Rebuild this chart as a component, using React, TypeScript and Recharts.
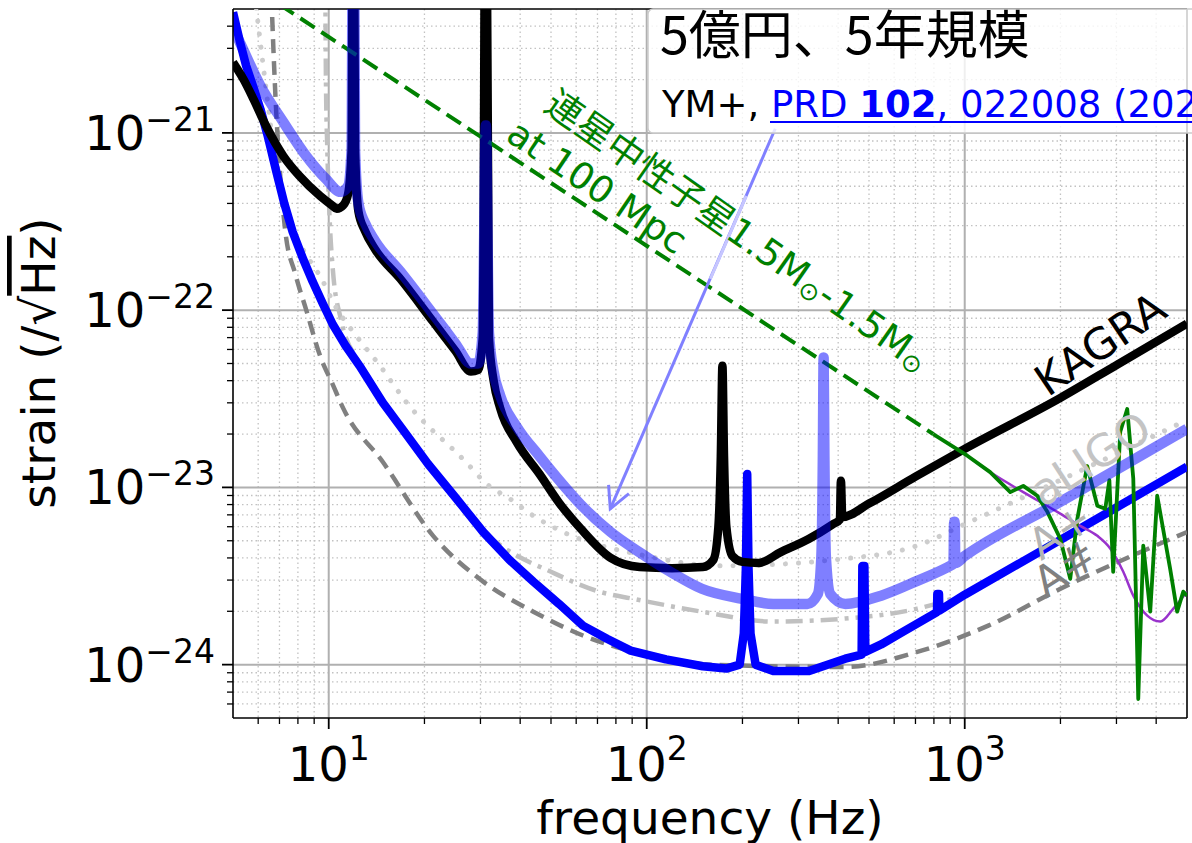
import React from 'react';
import { LineChart, Line, XAxis, YAxis, CartesianGrid, ReferenceLine, ReferenceDot } from 'recharts';

type Pt = [number, number];

const FONT = "'DejaVu Sans', 'Noto Sans CJK JP', sans-serif";
const JP = "'Noto Sans CJK JP', 'DejaVu Sans', sans-serif";

const X_DOMAIN: [number, number] = [5, 5000];
const Y_DOMAIN: [number, number] = [5e-25, 5e-21];

const xMajorTicks = [10, 100, 1000];
const xMinorTicks = [6, 7, 8, 9, 20, 30, 40, 50, 60, 70, 80, 90, 200, 300, 400, 500, 600, 700, 800, 900, 2000, 3000, 4000];
const yMajorTicks = [1e-24, 1e-23, 1e-22, 1e-21];
const yMinorTicks = [
  6e-25, 7e-25, 8e-25, 9e-25,
  2e-24, 3e-24, 4e-24, 5e-24, 6e-24, 7e-24, 8e-24, 9e-24,
  2e-23, 3e-23, 4e-23, 5e-23, 6e-23, 7e-23, 8e-23, 9e-23,
  2e-22, 3e-22, 4e-22, 5e-22, 6e-22, 7e-22, 8e-22, 9e-22,
  2e-21, 3e-21, 4e-21,
];

// KAGRA (black)
const kagra: Pt[] = [
  [5, 2.5e-21], [5.4, 2.0e-21], [5.8, 1.55e-21], [6.36, 1.09e-21], [7.2, 7.4e-22], [8.1, 5.7e-22],
  [9.4, 4.4e-22], [10.3, 3.87e-22], [10.6, 3.73e-22], [11.1, 3.9e-22], [11.5, 4.5e-22], [11.8, 8e-22],
  [11.95, 1e-19], [12.1, 8e-22], [12.4, 3.6e-22], [13, 2.8e-22], [14, 2.2e-22], [16.8, 1.5e-22],
  [21.3, 8.6e-23], [25, 5.9e-23], [28, 4.5e-23], [29.5, 4.6e-23], [30.5, 7e-23], [31.2, 1e-19],
  [31.9, 7e-23], [33, 4e-23], [34.6, 2.8e-23], [39, 1.8e-23], [46, 1.19e-23], [53, 8.2e-24],
  [62, 5.85e-24], [77, 4e-24], [95, 3.55e-24], [120, 3.5e-24], [150, 3.55e-24], [162, 3.9e-24],
  [168, 6e-24], [171, 1.5e-23], [173, 4.85e-23], [175, 1.5e-23], [178, 6e-24], [186, 4.1e-24],
  [200, 3.8e-24], [225, 3.75e-24], [263, 4.3e-24], [324, 5.13e-24], [385, 6.2e-24], [405, 6.6e-24],
  [408, 1.09e-23], [412, 6.8e-24], [500, 8.1e-24], [700, 1.15e-23], [1000, 1.65e-23], [2000, 3.2e-23],
  [3000, 4.9e-23], [5000, 8.4e-23],
];

// KAGRA upgrade (translucent blue)
const upgradeLight: Pt[] = [
  [5, 3.9e-21], [5.27, 3.2e-21], [6.1, 1.84e-21], [7.2, 1.15e-21], [8.5, 7.4e-22], [9.8, 5.5e-22],
  [10.9, 4.65e-22], [11.5, 5e-22], [11.8, 8e-22], [11.95, 1e-19], [12.1, 8e-22], [12.4, 4e-22],
  [13, 3.1e-22], [14, 2.45e-22], [16.8, 1.65e-22], [21.3, 9.5e-23], [25, 6.5e-23], [28, 5e-23],
  [29.5, 5e-23], [30.5, 7.5e-23], [31.2, 1.1e-21], [31.9, 7.5e-23], [33, 4.5e-23], [34.6, 3.3e-23],
  [39, 2.2e-23], [46, 1.5e-23], [53, 1.1e-23], [62, 8e-24], [77, 5.6e-24], [95, 4.3e-24],
  [120, 3.3e-24], [149, 2.68e-24], [200, 2.35e-24], [250, 2.2e-24], [320, 2.2e-24], [345, 2.5e-24],
  [354, 4e-24], [358, 1.5e-23], [360, 5.4e-23], [362, 1.5e-23], [366, 4e-24], [378, 2.5e-24],
  [421, 2.2e-24], [546, 2.45e-24], [709, 2.97e-24], [910, 3.65e-24], [922, 3.7e-24], [926, 6.4e-24],
  [930, 6.4e-24], [934, 3.75e-24], [1000, 4.1e-24], [2000, 8.3e-24], [3000, 1.26e-23], [5000, 2.14e-23],
];

// 5-year plan (solid blue)
const upgradeBlue: Pt[] = [
  [5, 4.8e-21], [5.25, 3.3e-21], [5.5, 2.39e-21], [5.8, 1.8e-21], [6.1, 1.36e-21], [6.45, 9.4e-22],
  [6.85, 6e-22], [7.25, 4e-22], [7.7, 2.77e-22], [8.3, 1.95e-22], [8.9, 1.45e-22], [9.6, 1.08e-22],
  [10.3, 8.3e-23], [11.3, 6.3e-23], [12.5, 4.85e-23], [14.8, 3e-23], [17.5, 2.0e-23], [20.5, 1.36e-23],
  [25, 8.8e-24], [30.6, 5.6e-24], [37, 3.9e-24], [44, 2.94e-24], [53, 2.2e-24], [63, 1.66e-24],
  [75, 1.4e-24], [89, 1.2e-24], [115, 1.07e-24], [150, 9.8e-25], [178, 9.5e-25], [196, 1.0e-24],
  [202, 1.5e-24], [205, 3.5e-24], [207, 1.19e-23], [209, 3.5e-24], [212, 1.5e-24], [220, 1.0e-24],
  [250, 9.2e-25], [324, 9.2e-25], [421, 1.08e-24], [474, 1.14e-24], [476.5, 3.6e-24], [483.5, 3.6e-24],
  [487, 1.18e-24], [546, 1.3e-24], [627, 1.5e-24], [818, 1.98e-24], [820, 2.5e-24], [830, 2.5e-24],
  [832, 2.02e-24], [1000, 2.48e-24], [2000, 5.06e-24], [3000, 7.7e-24], [5000, 1.31e-23],
];

// aLIGO (dotted light grey)
const aligo: Pt[] = [
  [5.85, 6e-21], [6.3, 2e-21], [6.8, 7e-22], [7.3, 3.6e-22], [8.3, 2.2e-22], [9.5, 1.5e-22],
  [10.5, 1.05e-22], [12.2, 7.16e-23], [14.5, 4.85e-23], [17.5, 3.04e-23], [27, 1.39e-23],
  [31.3, 1.05e-23], [37.2, 8.6e-24], [44, 6.92e-24], [51.9, 5.85e-24], [100, 4.1e-24], [170, 3.61e-24],
  [421, 3.96e-24], [709, 4.69e-24], [1000, 6.2e-24], [2000, 1.1e-23], [5000, 2.4e-23],
];

// A+ (dash-dot grey)
const aplus: Pt[] = [
  [9.7, 1e-19], [9.8, 2e-21], [9.9, 8e-22], [10.05, 3.5e-22], [10.3, 1.7e-22], [10.9, 9e-23],
  [12.5, 5e-23], [14.8, 3e-23], [20.5, 1.36e-23], [30.6, 5.6e-24], [36, 4.5e-24], [50, 3.34e-24],
  [71, 2.58e-24], [91, 2.35e-24], [149, 1.99e-24], [250, 1.75e-24], [421, 1.82e-24], [709, 2.07e-24],
  [1000, 2.5e-24], [2000, 5.1e-24], [5000, 1.3e-23],
];

// A# (dashed grey)
const asharp: Pt[] = [
  [6.6, 6e-21], [6.8, 1.6e-21], [7.05, 5.5e-22], [7.3, 2.8e-22], [7.85, 1.6e-22], [8.5, 1e-22],
  [9.4, 5.5e-23], [10.3, 3.8e-23], [11.1, 2.8e-23], [14.8, 1.39e-23], [21.3, 5.33e-24], [30.6, 2.94e-24],
  [44, 1.99e-24], [63, 1.46e-24], [91, 1.18e-24], [147, 1.01e-24], [192, 9.9e-25], [421, 9.7e-25],
  [709, 1.18e-24], [1186, 1.66e-24], [2000, 2.68e-24], [5000, 5.6e-24],
];

// BNS inspiral at 100 Mpc (green dashed) and post-merger (green solid, purple)
const bnsInspiral: Pt[] = [[7, 5.3e-21], [796, 2.0e-23]];
const bnsPostMerger: Pt[] = [
  [796, 2.0e-23], [1019, 1.51e-23], [1202, 1.22e-23], [1391, 9.4e-24], [1528, 1.02e-23], [1691, 8.97e-24],
  [1819, 7.28e-24], [1997, 5.13e-24], [2147, 3.05e-24], [2260, 6.65e-24], [2427, 1.32e-23], [2612, 7.87e-24],
  [2767, 7.57e-24], [2850, 1.1e-23], [2930, 3.34e-24], [3084, 2.06e-23], [3243, 2.77e-23], [3389, 1.12e-23],
  [3513, 6.4e-25], [3643, 4.69e-24], [3831, 1.99e-24], [4030, 8.97e-24], [4426, 3.47e-24], [4656, 1.99e-24],
  [4868, 2.58e-24], [5000, 2.45e-24],
];
const bnsEnvelope: Pt[] = [
  [1019, 1.51e-23], [1202, 1.22e-23], [1528, 9.4e-24], [1954, 7.28e-24], [2308, 6.07e-24], [2612, 5.33e-24],
  [2871, 4.51e-24], [3152, 3.34e-24], [3389, 2.45e-24], [3749, 1.89e-24], [4121, 1.75e-24], [4529, 2.07e-24],
  [5000, 2.58e-24],
];

const toRows = (pts: Pt[]) => pts.map(([f, h]) => ({ f, h }));
const xTicks = [...xMajorTicks, ...xMinorTicks].sort((a, b) => a - b);
const yTicks = [...yMajorTicks, ...yMinorTicks].sort((a, b) => a - b);

const isMajor = (v: number) => {
  const l = Math.log10(v);
  return Math.abs(l - Math.round(l)) < 1e-6;
};

const XTick = (props: any) => {
  const { x, y, payload } = props;
  const v = payload.value;
  const major = isMajor(v);
  return (
    <g>
      <line x1={x} x2={x} y1={y} y2={y + (major ? 11 : 6)} stroke="#000" strokeWidth={major ? 1.8 : 1.3} />
      {major ? (
        <text x={x} y={y + 63} textAnchor="middle" fontFamily={FONT} fontSize={48} fill="#000">
          10<tspan fontSize={33} dy={-21}>{Math.round(Math.log10(v))}</tspan>
        </text>
      ) : null}
    </g>
  );
};

const YTick = (props: any) => {
  const { x, y, payload } = props;
  const v = payload.value;
  const major = isMajor(v);
  return (
    <g>
      <line x1={x} x2={x - (major ? 11 : 6)} y1={y} y2={y} stroke="#000" strokeWidth={major ? 1.8 : 1.3} />
      {major ? (
        <text x={x - 18} y={y + 17} textAnchor="end" fontFamily={FONT} fontSize={48} fill="#000">
          10<tspan fontSize={33} dy={-19}>{'\u2212' + Math.abs(Math.round(Math.log10(v)))}</tspan>
        </text>
      ) : null}
    </g>
  );
};

const rotText = (content: React.ReactNode, color: string, size: number, angle: number) => (p: any) => (
  <text
    x={p.cx}
    y={p.cy}
    transform={`rotate(${angle}, ${p.cx}, ${p.cy})`}
    textAnchor="middle"
    dominantBaseline="central"
    fontFamily={FONT}
    fontSize={size}
    fill={color}
  >
    {content}
  </text>
);

const Arrow = (p: any) => {
  const { x1, y1, x2, y2 } = p;
  const ang = Math.atan2(y1 - y2, x1 - x2);
  const L = 24;
  const w = 0.48;
  const a = `${x2 + L * Math.cos(ang - w)},${y2 + L * Math.sin(ang - w)}`;
  const b = `${x2 + L * Math.cos(ang + w)},${y2 + L * Math.sin(ang + w)}`;
  return (
    <g>
      <line x1={x1} y1={y1} x2={x2} y2={y2} stroke="#8080ff" strokeWidth={3} />
      <polyline points={`${a} ${x2},${y2} ${b}`} fill="none" stroke="#8080ff" strokeWidth={3} />
    </g>
  );
};

const PaleSeg = (p: any) => <line x1={p.x1} y1={p.y1} x2={p.x2} y2={p.y2} stroke="#c6c6ff" strokeWidth={3} />;

const common = { dot: false, activeDot: false, isAnimationActive: false, dataKey: 'h' } as const;

export default function App() {
  return (
    <div style={{ position: 'absolute', left: 0, top: 0, width: 1192, height: 843, overflow: 'hidden', background: '#fff' }}>
      <LineChart width={1192} height={843} margin={{ top: 9, right: 5, bottom: 0, left: 0 }}>
        <CartesianGrid
          verticalValues={xMinorTicks}
          horizontalValues={yMinorTicks}
          stroke="#c2c2c2"
          strokeWidth={1.3}
          strokeDasharray="1.5 3"
        />
        <CartesianGrid verticalValues={xMajorTicks} horizontalValues={yMajorTicks} stroke="#b0b0b0" strokeWidth={2} />
        <XAxis
          dataKey="f"
          type="number"
          scale="log"
          domain={X_DOMAIN}
          allowDataOverflow
          ticks={xTicks}
          interval={0}
          tick={<XTick />}
          tickLine={false}
          tickSize={0}
          tickMargin={0}
          height={125}
          axisLine={{ stroke: '#000', strokeWidth: 1.6 }}
        />
        <YAxis
          type="number"
          scale="log"
          domain={Y_DOMAIN}
          allowDataOverflow
          ticks={yTicks}
          interval={0}
          tick={<YTick />}
          tickLine={false}
          tickSize={0}
          tickMargin={0}
          width={233}
          axisLine={{ stroke: '#000', strokeWidth: 1.6 }}
        />
        <ReferenceLine y={5e-21} stroke="#000" strokeWidth={1.6} />
        <ReferenceLine x={5000} stroke="#000" strokeWidth={1.6} />

        <Line {...common} data={toRows(aplus)} type="monotoneX" stroke="#c0c0c0" strokeWidth={4.5} strokeDasharray="17 7 4 7" />
        <Line {...common} data={toRows(aligo)} type="monotoneX" stroke="#cdcdcd" strokeWidth={5} strokeDasharray="0.1 13" strokeLinecap="round" />
        <Line {...common} data={toRows(asharp)} type="monotoneX" stroke="#808080" strokeWidth={4.5} strokeDasharray="14 8" />
        <Line {...common} data={toRows(upgradeBlue)} type="linear" stroke="#0000ff" strokeWidth={8.5} strokeLinejoin="round" />
        <Line {...common} data={toRows(kagra)} type="monotoneX" stroke="#000000" strokeWidth={8.5} strokeLinejoin="round" />
        <Line {...common} data={toRows(bnsInspiral)} type="linear" stroke="#008000" strokeWidth={4} strokeDasharray="17 8" />
        <Line {...common} data={toRows(bnsEnvelope)} type="monotoneX" stroke="#9932cc" strokeWidth={2.5} />
        <Line {...common} data={toRows(bnsPostMerger)} type="linear" stroke="#008000" strokeWidth={3.8} strokeLinejoin="round" />
        <Line {...common} data={toRows(upgradeLight)} type="monotoneX" stroke="#0000ff" strokeOpacity={0.5} strokeWidth={10.5} strokeLinejoin="round" />

        <ReferenceLine segment={[{ x: 253.6, y: 1.055e-21 }, { x: 76.8, y: 7.57e-24 }]} shape={Arrow} />
        <ReferenceLine segment={[{ x: 205.6, y: 4.41e-22 }, { x: 158.5, y: 1.5e-22 }]} shape={PaleSeg} />

        <ReferenceDot x={2667} y={6.45e-23} r={0} shape={rotText('KAGRA', '#000', 43, -34)} />
        <ReferenceDot x={2483} y={1.45e-23} r={0} shape={rotText('aLIGO', '#c4c4c4', 44, -33)} />
        <ReferenceDot x={1997} y={5.69e-24} r={0} shape={rotText('A+', '#b4b4b4', 43, -33)} />
        <ReferenceDot x={2070} y={3.48e-24} r={0} shape={rotText('A#', '#808080', 43, -33)} />
        <ReferenceDot
          x={192.6}
          y={2.8e-22}
          r={0}
          shape={rotText(
            <>
              連星中性子星1.5M<tspan fontSize={25} dy={8}>⊙</tspan>
              <tspan dy={-8}>-1.5M</tspan>
              <tspan fontSize={25} dy={8}>⊙</tspan>
            </>,
            '#008000',
            37,
            35,
          )}
        />
        <ReferenceDot x={69.8} y={4.95e-22} r={0} shape={rotText('at 100 Mpc', '#008000', 37, 34)} />
      </LineChart>

      <svg width={1192} height={843} style={{ position: 'absolute', left: 0, top: 0, pointerEvents: 'none' }}>
        <rect x={648} y={9} width={620} height={124} rx={5} fill="#ffffff" fillOpacity={0.8} stroke="#cccccc" strokeWidth={1.5} />
        <text x={660} y={54} fontFamily={JP} fontSize={52} fill="#000">5億円、5年規模</text>
        <text x={662} y={117} fontFamily={FONT} fontSize={37} fill="#000">
          <tspan>YM+, </tspan>
          <tspan fill="#0000ff">PRD </tspan>
          <tspan fill="#0000ff" fontWeight="bold">102</tspan>
          <tspan fill="#0000ff">, 022008 (2020)</tspan>
        </text>
        <line x1={770} x2={1192} y1={122} y2={122} stroke="#0000ff" strokeWidth={2} />
        <text x={710} y={834} textAnchor="middle" fontFamily={FONT} fontSize={47} fill="#000">frequency (Hz)</text>
        <text x={55} y={363} transform="rotate(-90, 55, 363)" textAnchor="middle" fontFamily={FONT} fontSize={47} fill="#000">
          strain (/√<tspan style={{ textDecoration: 'overline' }}>Hz</tspan>)
        </text>
      </svg>
    </div>
  );
}
